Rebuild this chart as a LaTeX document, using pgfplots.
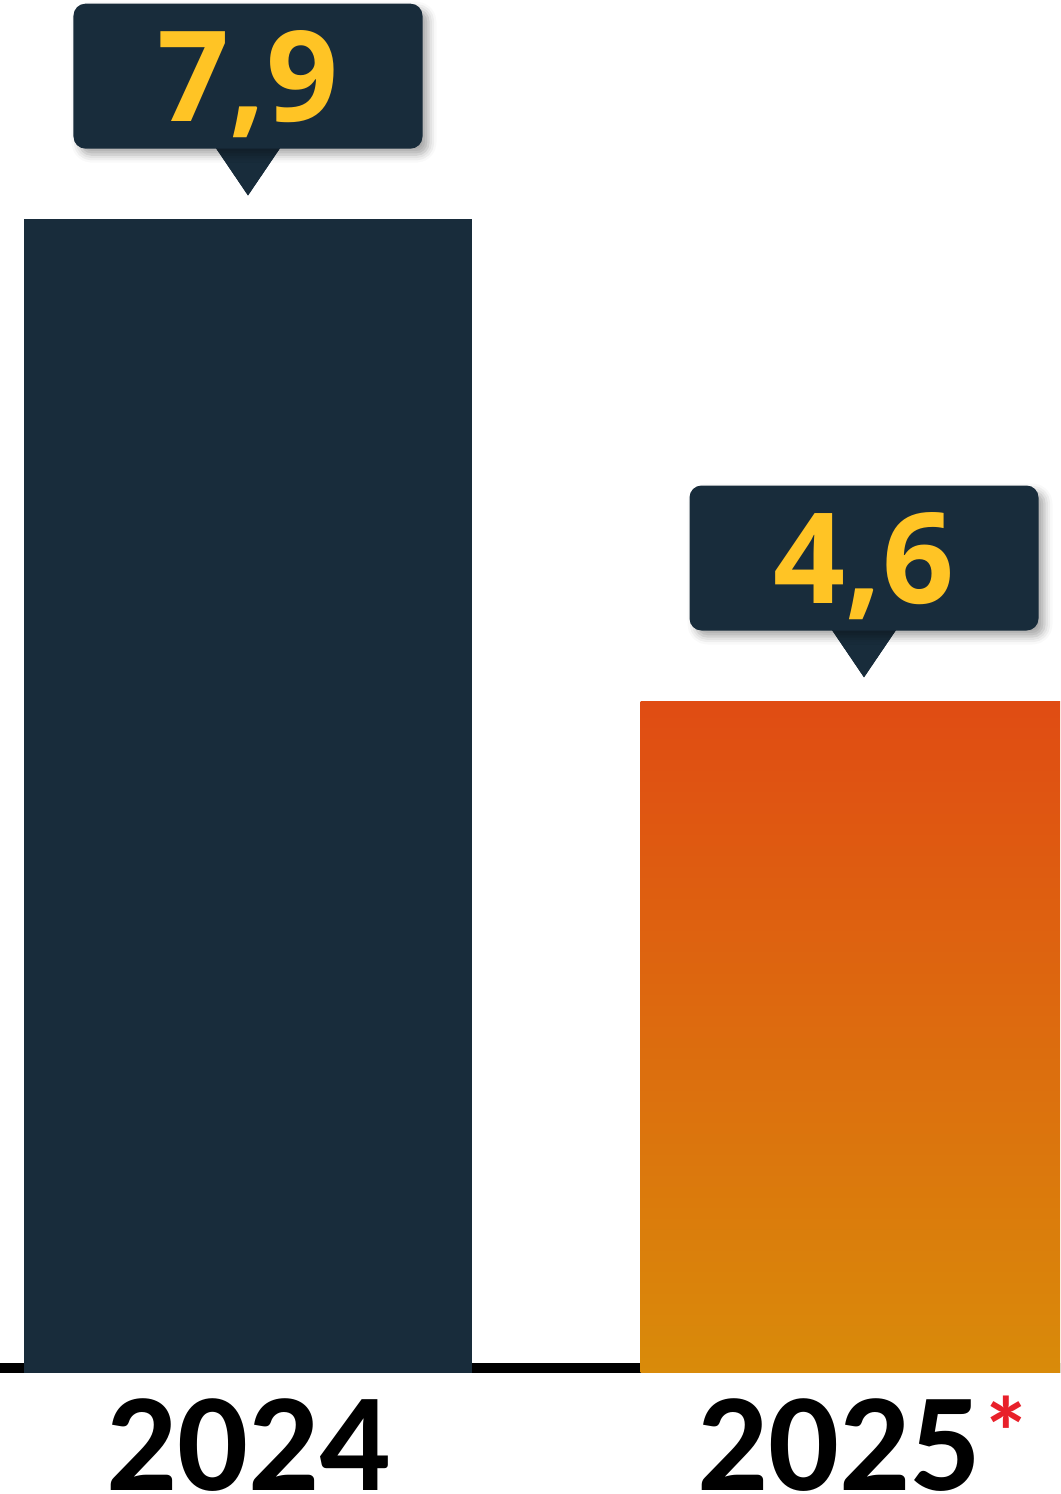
\documentclass[border=0pt]{standalone}
\usepackage{pgfplots}
\pgfplotsset{compat=1.18}
\usepackage{fontspec}
\setmainfont{Carlito}
\newfontfamily\valfont{Open Sans}
\usetikzlibrary{shadows.blur}

\definecolor{navy}{HTML}{182C3B}
\definecolor{gold}{HTML}{FFC425}
\definecolor{orangetop}{HTML}{E04C13}
\definecolor{orangebot}{HTML}{D98B0A}
\definecolor{baseline}{HTML}{262626}
\definecolor{starred}{HTML}{E8202A}

\begin{document}
\begin{tikzpicture}
\path[use as bounding box] (0,0) rectangle (265pt,373.5pt);
\clip (0,0) rectangle (265pt,373.5pt);
\begin{axis}[
    at={(0pt,30.25pt)}, anchor=south west,
    scale only axis,
    width=265pt, height=343.25pt,
    xmin=-0.4026, xmax=1.3182,
    ymin=0, ymax=9.403,
    clip=false,
    hide y axis,
    axis x line*=bottom,
    x axis line style={draw=none},
    xtick={0,1},
    xticklabels={2024, 2025\textcolor{starred}{\raisebox{5.5pt}{\fontsize{25}{25}\selectfont *}}},
    major tick length=0pt,
    xticklabel style={font=\bfseries\fontsize{35}{35}\selectfont, anchor=base, yshift=-29.25pt, inner sep=0pt},
    bar width=111.75pt,
    nodes near coords,
    /pgf/number format/.cd, use comma, fixed, fixed zerofill, precision=1, assume math mode=true,
    /pgfplots/.cd,
    nodes near coords style={
        fill=navy, text=gold,
        font=\valfont\bfseries\fontsize{31.5}{31.5}\selectfont,
        minimum width=87.25pt, minimum height=36.25pt,
        text height=22.5pt, text depth=0pt, inner sep=0pt,
        rounded corners=3pt,
        anchor=south, yshift=17.5pt,
        blur shadow={shadow xshift=1.5pt, shadow yshift=-1.5pt, shadow blur radius=2pt, shadow opacity=35},
        append after command={\pgfextra{
            \path[fill=navy, top color=navy, bottom color=navy]
                ([xshift=-8.125pt,yshift=0.5pt]\tikzlastnode.south)
                -- ([yshift=-11.5pt]\tikzlastnode.south)
                -- ([xshift=8.125pt,yshift=0.5pt]\tikzlastnode.south) -- cycle;}},
    },
]
\draw[baseline, line width=2.5pt] (axis cs:-1,0.0344) -- (axis cs:2,0.0344);
\addplot[ybar, bar shift=0pt, draw=none, fill=navy] coordinates {(0,7.9)};
\addplot[ybar, bar shift=0pt, draw=none, top color=orangetop, bottom color=orangebot] coordinates {(1,4.6)};
\end{axis}
\end{tikzpicture}
\end{document}
